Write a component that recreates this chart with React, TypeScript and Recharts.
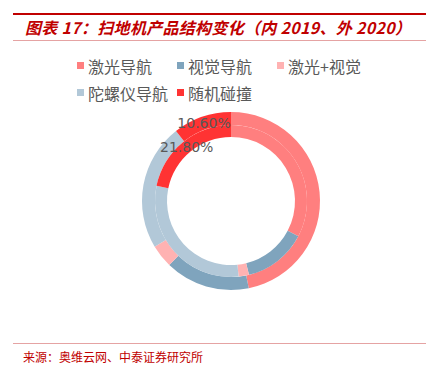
import { PieChart, Pie, Cell } from "recharts";

const categories = ["激光导航", "视觉导航", "激光+视觉", "陀螺仪导航", "随机碰撞"];
const share2019 = [32.7, 13.5, 2.2, 29.8, 21.8];
const share2020 = [46.8, 15.4, 4.2, 23.0, 10.6];
const colors = ["#FF7F7F", "#7FA4BD", "#FFB2B2", "#B2C8D8", "#FF3333"];
const labelled = "随机碰撞";

const title = "图表 17：扫地机产品结构变化（内 2019、外 2020）";
const source = "来源：奥维云网、中泰证券研究所";

const RED = "#C00000";
const RAD = Math.PI / 180;

const toRows = (values: number[]) =>
  categories.map((name, i) => ({ name, value: values[i] }));

const data2019 = toRows(share2019);
const data2020 = toRows(share2020);

// only the random-collision slice carries a label, centred on the ring
const renderLabel = (p: any) => {
  if (p.name !== labelled) return null;
  const r = (p.innerRadius + p.outerRadius) / 2;
  const x = p.cx + r * Math.cos(-p.midAngle * RAD);
  const y = p.cy + r * Math.sin(-p.midAngle * RAD);
  return (
    <text
      x={x}
      y={y}
      textAnchor="middle"
      dominantBaseline="central"
      fill="#595959"
      fontSize={14}
      fontFamily="'DejaVu Sans', sans-serif"
    >
      {`${p.value.toFixed(2)}%`}
    </text>
  );
};

export default function App() {
  return (
    <div
      style={{
        position: "absolute",
        left: 0,
        top: 0,
        width: 438,
        height: 377,
        background: "#fff",
        fontFamily: "'Noto Sans CJK SC', sans-serif",
      }}
    >
      <div style={{ position: "absolute", left: 13, top: 13, width: 413, height: 2, background: RED }} />
      <div
        style={{
          position: "absolute",
          left: 25,
          top: 16,
          color: RED,
          fontSize: 16,
          fontWeight: "bold",
          fontStyle: "italic",
          lineHeight: "22px",
          letterSpacing: 0.3,
          whiteSpace: "nowrap",
        }}
      >
        {title}
      </div>
      <div style={{ position: "absolute", left: 13, top: 40, width: 413, height: 1, background: "#E5A3A3" }} />

      <div
        style={{
          position: "absolute",
          left: 77,
          top: 52,
          width: 300,
          display: "flex",
          flexWrap: "wrap",
        }}
      >
        {categories.map((c, i) => (
          <div
            key={c}
            style={{ width: 100, height: 27, display: "flex", alignItems: "center", whiteSpace: "nowrap" }}
          >
            <span style={{ width: 7, height: 7, background: colors[i], marginRight: 4, flexShrink: 0 }} />
            <span style={{ fontSize: 16, color: "#595959", lineHeight: "20px" }}>{c}</span>
          </div>
        ))}
      </div>

      <div style={{ position: "absolute", left: 0, top: 0 }}>
        <PieChart width={438} height={377}>
          <Pie
            data={data2020}
            dataKey="value"
            nameKey="name"
            cx={226}
            cy={196}
            innerRadius={76}
            outerRadius={89}
            startAngle={90}
            endAngle={-270}
            stroke="none"
            label={renderLabel}
            labelLine={false}
            isAnimationActive={false}
          >
            {data2020.map((d, i) => (
              <Cell key={d.name} fill={colors[i]} />
            ))}
          </Pie>
          <Pie
            data={data2019}
            dataKey="value"
            nameKey="name"
            cx={226}
            cy={196}
            innerRadius={64}
            outerRadius={76}
            startAngle={90}
            endAngle={-270}
            stroke="none"
            label={renderLabel}
            labelLine={false}
            isAnimationActive={false}
          >
            {data2019.map((d, i) => (
              <Cell key={d.name} fill={colors[i]} />
            ))}
          </Pie>
        </PieChart>
      </div>

      <div style={{ position: "absolute", left: 13, top: 343, width: 413, height: 1, background: "#E5A3A3" }} />
      <div
        style={{
          position: "absolute",
          left: 23,
          top: 349,
          color: RED,
          fontSize: 12,
          lineHeight: "16px",
          whiteSpace: "nowrap",
        }}
      >
        {source}
      </div>
    </div>
  );
}
